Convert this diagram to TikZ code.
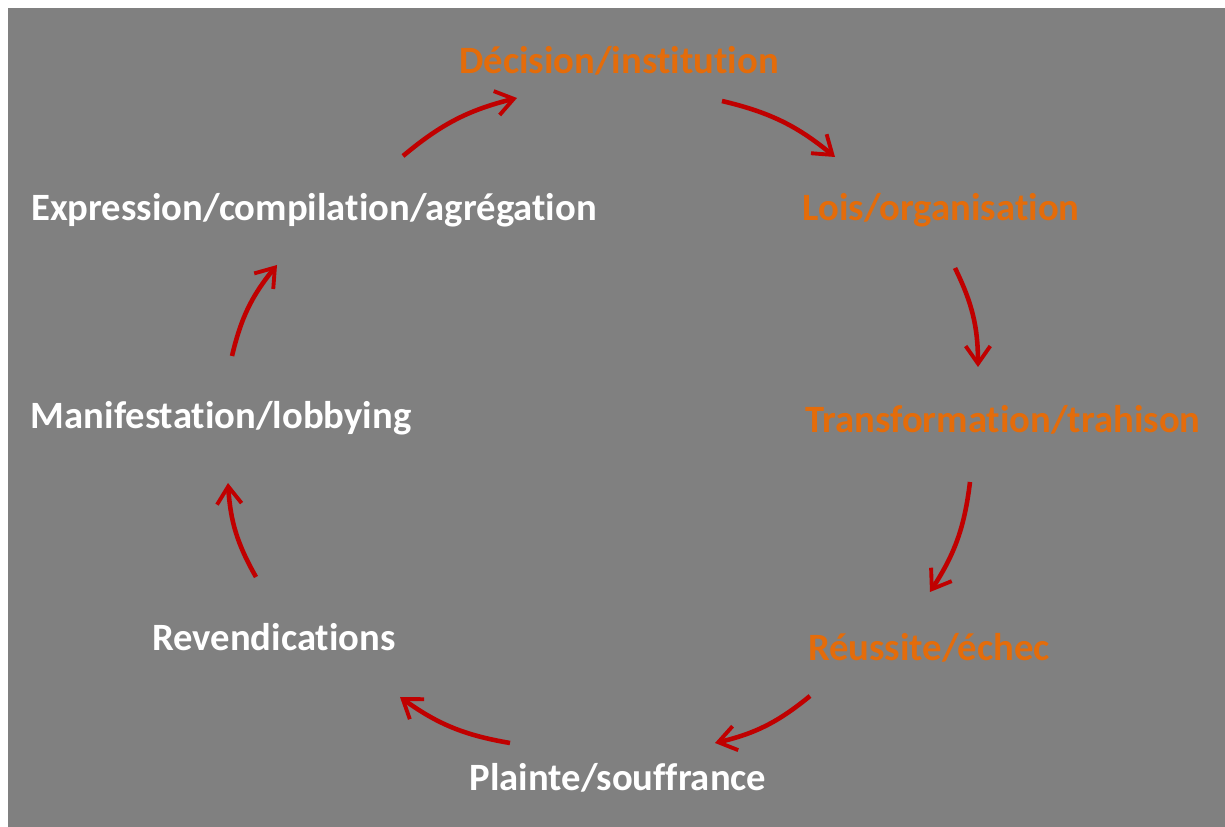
\documentclass[tikz,border=0pt]{standalone}
\usepackage{fontspec}
\setmainfont{Carlito}[Ligatures=NoCommon]
\usepackage{xcolor}
\usetikzlibrary{arrows.meta}
\definecolor{bggray}{HTML}{808080}
\definecolor{stageorange}{HTML}{E46C0A}
\definecolor{cyclered}{HTML}{C00000}

\begin{document}
\begin{tikzpicture}[
  x=0.02cm, y=-0.02cm,
  stage/.style  = {font=\fontsize{22}{25}\selectfont\bfseries,
                   text=#1, inner sep=0pt},
  stage/.default = white,
  cycle/.style  = {-{Straight Barb[length=10pt,width=14pt,line width=2.2pt]},
                   line width=2.6pt, cyclered, bend left=13}
]

%% ─── Background ─────────────────────────────────────────────────
\useasboundingbox (0,0) rectangle (1225,827);
\fill[bggray] (8,8) rectangle (1225,827);

%% ─── Stages of the cycle ────────────────────────────────────────
\node[stage=stageorange] (decision) at (619,61)  {Décision/institution};
\node[stage=stageorange] (lois)     at (941,210) {Lois/organisation};
\node[stage=stageorange] (transfo)  at (1003,420) {Transformation/trahison};
\node[stage=stageorange] (reussite) at (929,648) {Réussite/échec};
\node[stage]             (plainte)  at (618,778) {Plainte/souffrance};
\node[stage]             (revend)   at (274,637) {Revendications};
\node[stage]             (manif)    at (221,418) {Manifestation/lobbying};
\node[stage]             (express)  at (314,210) {Expression/compilation/agrégation};

%% ─── Arrow ends ─────────────────────────────────────────────────
\coordinate (a1) at (403,156); \coordinate (b1) at (517,98);
\coordinate (a2) at (722,101); \coordinate (b2) at (835,157);
\coordinate (a3) at (955,268); \coordinate (b3) at (978,367);
\coordinate (a4) at (970,482); \coordinate (b4) at (930,592);
\coordinate (a5) at (810,696); \coordinate (b5) at (715,743);
\coordinate (a6) at (510,743); \coordinate (b6) at (400,697);
\coordinate (a7) at (256,577); \coordinate (b7) at (228,483);
\coordinate (a8) at (232,356); \coordinate (b8) at (277,265);

%% ─── Arrows (clockwise) ─────────────────────────────────────────
\foreach \i in {1,...,8}
  \draw[cycle] (a\i) to (b\i);

\end{tikzpicture}
\end{document}
